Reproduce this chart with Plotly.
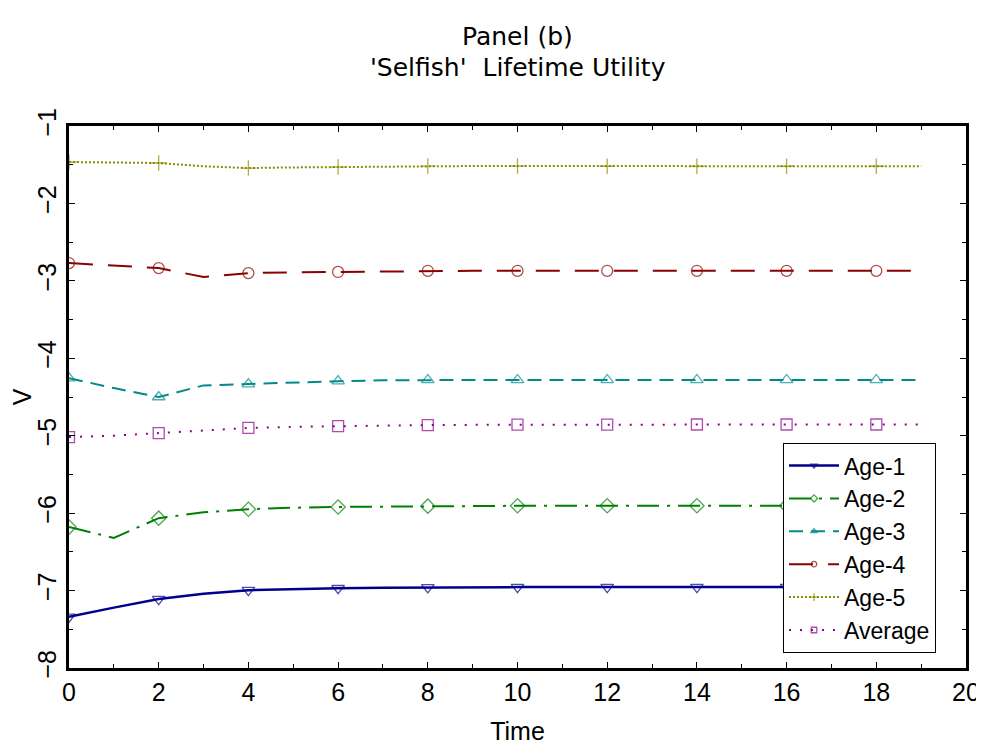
import plotly.graph_objects as go

time = list(range(20))
age1 = [-7.34, -7.22, -7.11, -7.04, -6.995, -6.98, -6.97, -6.965, -6.96, -6.96,
        -6.955, -6.955, -6.955, -6.955, -6.955, -6.955, -6.955, -6.955, -6.955, -6.955]
age2 = [-6.18, -6.32, -6.065, -5.99, -5.95, -5.93, -5.92, -5.915, -5.91, -5.91,
        -5.905, -5.905, -5.905, -5.905, -5.905, -5.905, -5.905, -5.905, -5.905, -5.905]
age3 = [-4.256, -4.385, -4.50, -4.35, -4.333, -4.31, -4.295, -4.285, -4.28, -4.28,
        -4.28, -4.28, -4.28, -4.28, -4.28, -4.28, -4.28, -4.28, -4.28, -4.28]
age4 = [-2.77, -2.80, -2.835, -2.95, -2.90, -2.89, -2.885, -2.875, -2.87, -2.87,
        -2.87, -2.87, -2.87, -2.87, -2.87, -2.87, -2.87, -2.87, -2.87, -2.87]
age5 = [-1.465, -1.47, -1.478, -1.52, -1.543, -1.535, -1.53, -1.52, -1.517, -1.517,
        -1.517, -1.517, -1.52, -1.52, -1.52, -1.52, -1.52, -1.52, -1.52, -1.52]
average = [-5.018, -5.00, -4.966, -4.93, -4.90, -4.885, -4.876, -4.868, -4.863, -4.86,
           -4.858, -4.856, -4.856, -4.855, -4.855, -4.855, -4.855, -4.855, -4.855, -4.855]

series_names = ["Age-1", "Age-2", "Age-3", "Age-4", "Age-5", "Average"]
series_values = [age1, age2, age3, age4, age5, average]
title_lines = ["Panel (b)", "'Selfish'  Lifetime Utility"]
colors = ["#00008B", "#008000", "#008B8B", "#8B0000", "#8B8B00", "#8B008B"]
dashes = ["solid", "22px,8px,3px,8px", "14px,8px", "24px,15px", "2px,2px", "2px,9px"]
symbols = ["triangle-down-open", "diamond-open", "triangle-up-open", "circle-open",
           "cross-thin-open", "square-open"]

FONT = "Liberation Sans, Arial, sans-serif"
TITLE_FONT = "DejaVu Sans, Liberation Sans, sans-serif"

fig = go.Figure()
for name, vals, c, d, s in zip(series_names, series_values, colors, dashes, symbols):
    sizes = [11 if t % 2 == 0 else 0 for t in time]
    fig.add_trace(go.Scatter(
        x=time, y=vals, name=name, mode="lines+markers",
        line=dict(color=c, width=2.5 if name == "Age-1" else 2, dash=d),
        marker=dict(symbol=s, size=sizes, color=c, line=dict(color=c, width=1.3)),
    ))

# title as two centred lines
fig.add_annotation(text=title_lines[0], xref="paper", yref="paper", x=0.5, y=(668 - 36) / 542,
                   showarrow=False, xanchor="center", yanchor="middle",
                   font=dict(size=25, family=TITLE_FONT, color="black"))
fig.add_annotation(text=title_lines[1], xref="paper", yref="paper", x=0.5, y=(668 - 68) / 542,
                   showarrow=False, xanchor="center", yanchor="middle",
                   font=dict(size=25, family=TITLE_FONT, color="black"))

fig.update_layout(
    width=984, height=748,
    margin=dict(l=61, r=26, t=118, b=88, autoexpand=False),
    paper_bgcolor="white", plot_bgcolor="white",
    font=dict(family=FONT, color="black", size=22),
    legend=dict(x=0.796, y=0.415, xanchor="left", yanchor="top",
                bgcolor="white", bordercolor="black", borderwidth=1,
                font=dict(size=23, family=FONT), tracegroupgap=0,
                itemwidth=50),
    showlegend=True,
)
fig.update_xaxes(
    range=[0, 20], tickvals=list(range(0, 21, 2)), ticks="inside", ticklen=6,
    tickcolor="black", showline=True, linecolor="black", linewidth=2.5, mirror="ticks",
    showgrid=False, zeroline=False, tickfont=dict(size=25, family=FONT),
    minor=dict(dtick=1, ticks="inside", ticklen=4, tickcolor="black"),
    title=dict(text="Time", font=dict(size=25, family=FONT), standoff=18),
    automargin=False,
)
fig.update_yaxes(
    range=[-8, -1], tickvals=list(range(-8, 0)), ticktext=[f"\u2212{abs(v)}" for v in range(-8, 0)],
    ticks="inside", ticklen=6, tickangle=-90,
    tickcolor="black", showline=True, linecolor="black", linewidth=2.5, mirror="ticks",
    showgrid=False, zeroline=False, tickfont=dict(size=25, family=FONT),
    minor=dict(dtick=0.5, ticks="inside", ticklen=4, tickcolor="black"),
    title=dict(text="V", font=dict(size=25, family=FONT), standoff=8),
    automargin=False,
)

fig.write_html("out.html")
